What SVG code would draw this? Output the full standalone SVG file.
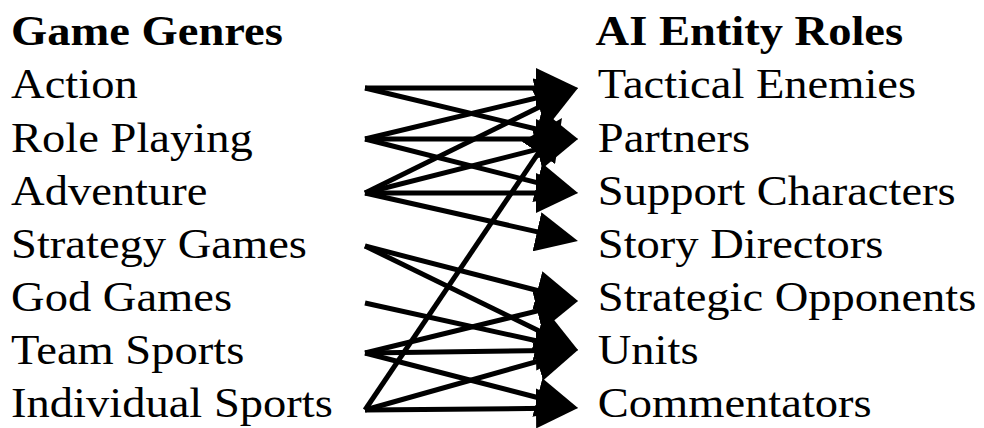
<svg xmlns="http://www.w3.org/2000/svg" width="984" height="428" viewBox="0 0 984 428">
  <style>
    .lbl { font-family: "Liberation Serif", "Times New Roman", serif; font-size: 42px; fill: #000; }
    .hdr { font-weight: bold; }
    .edge { stroke: #000; stroke-width: 5; fill: none; marker-end: url(#head); }
  </style>
  <defs>
    <!-- filled triangular head; refX sits 30px behind the tip -->
    <marker id="head" viewBox="0 0 42 40" refX="12" refY="20" markerWidth="42" markerHeight="40" markerUnits="userSpaceOnUse" orient="auto">
      <path d="M0,0 L42,20 L0,40 z" fill="#000"/>
    </marker>
  </defs>
  <rect width="984" height="428" fill="#fff"/>

  <!-- column headings -->
  <g id="heading-genres"><text class="lbl hdr" x="10" y="45" transform="scale(1.108 1)">Game Genres</text></g>
  <g id="heading-roles"><text class="lbl hdr" x="537.5" y="45" transform="scale(1.108 1)">AI Entity Roles</text></g>

  <!-- genres -->
  <g id="genre-action"><text class="lbl" x="10" y="98" transform="scale(1.108 1)">Action</text></g>
  <g id="genre-role-playing"><text class="lbl" x="10" y="152" transform="scale(1.108 1)">Role Playing</text></g>
  <g id="genre-adventure"><text class="lbl" x="10" y="205" transform="scale(1.108 1)">Adventure</text></g>
  <g id="genre-strategy"><text class="lbl" x="10" y="258" transform="scale(1.108 1)">Strategy Games</text></g>
  <g id="genre-god"><text class="lbl" x="10" y="311" transform="scale(1.108 1)">God Games</text></g>
  <g id="genre-team-sports"><text class="lbl" x="10" y="364" transform="scale(1.108 1)">Team Sports</text></g>
  <g id="genre-individual-sports"><text class="lbl" x="10" y="417" transform="scale(1.108 1)">Individual Sports</text></g>

  <!-- roles -->
  <g id="role-tactical-enemies"><text class="lbl" x="539.5" y="98" transform="scale(1.108 1)">Tactical Enemies</text></g>
  <g id="role-partners"><text class="lbl" x="539.5" y="152" transform="scale(1.108 1)">Partners</text></g>
  <g id="role-support"><text class="lbl" x="539.5" y="205" transform="scale(1.108 1)">Support Characters</text></g>
  <g id="role-story-directors"><text class="lbl" x="539.5" y="258" transform="scale(1.108 1)">Story Directors</text></g>
  <g id="role-strategic-opponents"><text class="lbl" x="539.5" y="311" transform="scale(1.108 1)">Strategic Opponents</text></g>
  <g id="role-units"><text class="lbl" x="539.5" y="364" transform="scale(1.108 1)">Units</text></g>
  <g id="role-commentators"><text class="lbl" x="539.5" y="417" transform="scale(1.108 1)">Commentators</text></g>

  <!-- connectors: genre -> role -->
  <g id="connectors">
    <line class="edge" x1="365" y1="88" x2="548" y2="88"/>
    <line class="edge" x1="365" y1="88" x2="548.8" y2="132"/>
    <line class="edge" x1="365" y1="139" x2="548.8" y2="95"/>
    <line class="edge" x1="365" y1="139" x2="548" y2="139"/>
    <line class="edge" x1="365" y1="139" x2="548.9" y2="185.6"/>
    <line class="edge" x1="365" y1="193" x2="551.1" y2="101.3"/>
    <line class="edge" x1="365" y1="193" x2="548.9" y2="146.4"/>
    <line class="edge" x1="365" y1="193" x2="548" y2="193"/>
    <line class="edge" x1="365" y1="193" x2="548.7" y2="234.4"/>
    <line class="edge" x1="365" y1="246" x2="549" y2="293.5"/>
    <line class="edge" x1="365" y1="246" x2="551" y2="336.8"/>
    <line class="edge" x1="365" y1="303" x2="548.7" y2="343.5"/>
    <line class="edge" x1="365" y1="353" x2="548.9" y2="308.1"/>
    <line class="edge" x1="365" y1="353" x2="548" y2="350.4"/>
    <line class="edge" x1="365" y1="353" x2="549" y2="400.5"/>
    <line class="edge" x1="365" y1="410" x2="545.2" y2="142.9"/>
    <line class="edge" x1="365" y1="410" x2="549.1" y2="358.1"/>
    <line class="edge" x1="365" y1="410" x2="548" y2="408.3"/>
  </g>
</svg>
